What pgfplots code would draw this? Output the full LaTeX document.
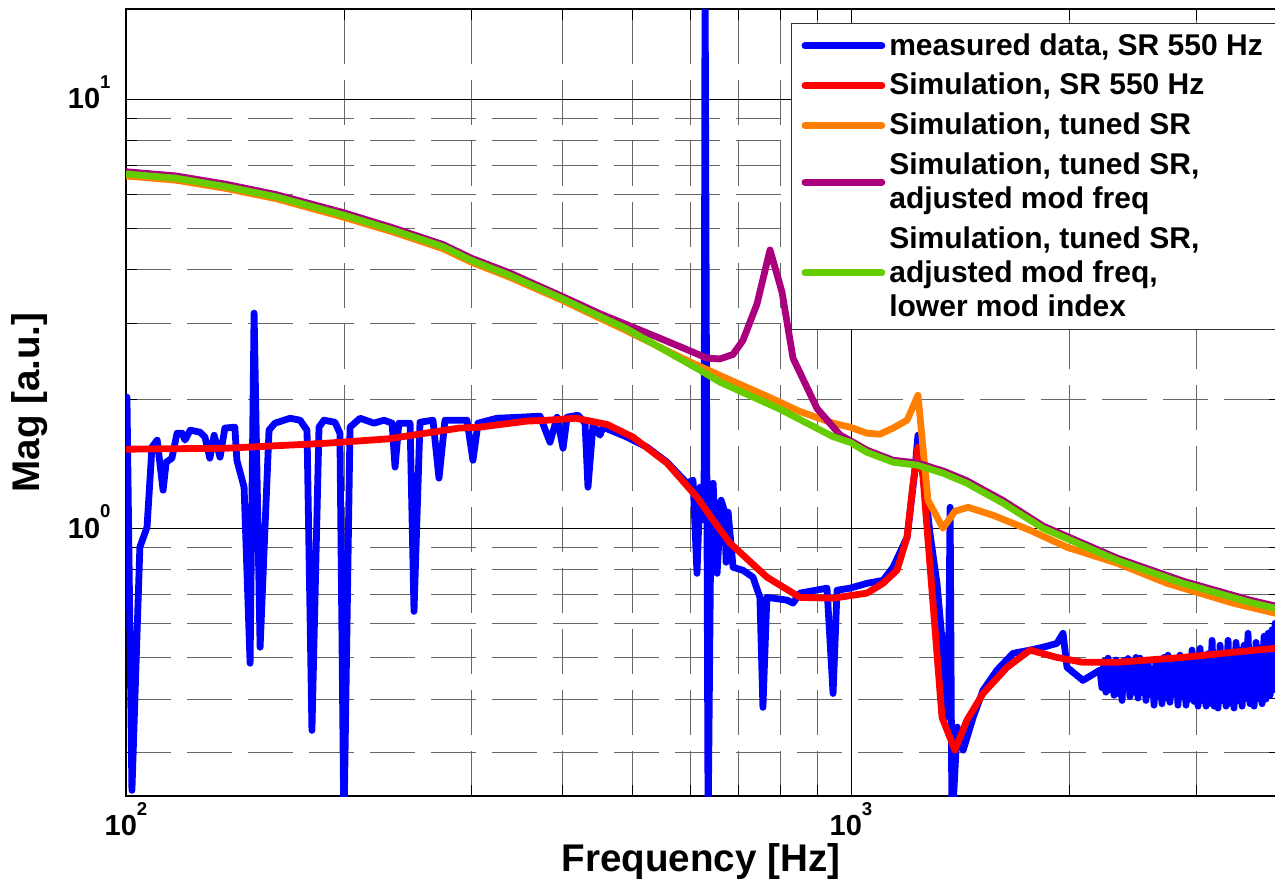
\documentclass[border=0pt]{standalone}
\usepackage{fontspec}
\setmainfont{Liberation Sans}
\usepackage{pgfplots}
\pgfplotsset{compat=1.18}
\definecolor{mblue}{RGB}{0,0,255}
\definecolor{mred}{RGB}{255,0,0}
\definecolor{morange}{RGB}{255,128,0}
\definecolor{mpurple}{RGB}{170,0,125}
\definecolor{mgreen}{RGB}{102,204,0}
\newcommand{\mexp}[2]{#1\smash{\raisebox{10.35pt}{\fontsize{9.3}{10}\selectfont #2}}}
\begin{document}
\begin{tikzpicture}
\begin{axis}[
  at={(0pt,0pt)}, anchor=south west,
  scale only axis, width=576.75pt, height=393.5pt,
  xmode=log, ymode=log,
  xmin=100, xmax=3900, ymin=0.2377, ymax=16.21,
  xtick={100,1000}, xticklabels={\mexp{10}{2},\mexp{10}{3}},
  ytick={1,10}, yticklabels={\mexp{10}{0},\mexp{10}{1}},
  minor xtick={200,300,400,500,600,700,800,900,2000,3000},
  minor ytick={0.3,0.4,0.5,0.6,0.7,0.8,0.9,2,3,4,5,6,7,8,9},
  grid=both,
  major grid style={black, line width=0.45pt},
  minor grid style={black!60, line width=0.45pt, dash pattern=on 22.5pt off 8pt},
  tick align=inside, tick pos=both,
  major tick length=5.5pt, minor tick length=5.5pt,
  every tick/.style={black, line width=0.5pt},
  axis line style={line width=0.6pt},
  ticklabel style={font=\fontsize{14.5}{17}\selectfont\bfseries},
  xticklabel style={yshift=-6.2pt},
  yticklabel style={xshift=-4.2pt},
  label style={font=\fontsize{19.3}{23}\selectfont\bfseries},
  xlabel={Frequency [Hz]}, ylabel={Mag [a.u.]},
  xlabel style={at={(axis description cs:0.4985,-0.0835)}, anchor=center},
  ylabel style={at={(axis description cs:-0.0832,0.5)}, anchor=center},
  legend style={at={(axis description cs:0.5765,0.9822)}, anchor=north west,
    draw=black!80, line width=0.5pt, fill=white,
    font=\fontsize{15}{17}\selectfont\bfseries,
    inner xsep=5pt, inner ysep=3pt, cells={align=left}, row sep=3.5pt},
  legend cell align=left,
  legend image code/.code={\draw[#1] (0pt,0pt) -- (38.5pt,0pt);},
  every axis plot/.append style={line width=3.4pt, line join=round, line cap=round},
  no markers,
]
% measured data
\addplot[mblue] coordinates {
(100.3,2.020)(101.9,0.245)(104.5,0.903)(106.9,1.005)(108.6,1.545)(110.4,1.604)(112.5,1.226)(113.6,1.425)
(115.7,1.456)(117.6,1.665)(119.5,1.665)(120.6,1.604)(122.6,1.692)(126.5,1.674)(128.5,1.630)(130.5,1.456)
(132.3,1.647)(134.8,1.464)(136.9,1.711)(141.3,1.720)(142.2,1.440)(145.5,1.246)(148.3,0.4845)(150.2,3.171)
(153.1,0.528)(157.5,1.692)(160.5,1.757)(168.4,1.804)(173.8,1.785)(177.7,1.692)(180.5,0.338)(184.6,1.720)
(187.5,1.785)(194.2,1.766)(197.3,1.665)(199.8,0.2)(203.7,1.720)(210.3,1.804)(219.8,1.757)(226.9,1.785)
(232.8,1.757)(235.0,1.388)(237.9,1.757)(246.5,1.757)(249.6,0.640)(254.4,1.766)(265.1,1.785)(270.2,1.308)
(275.4,1.785)(295.3,1.785)(301.0,1.440)(305.9,1.757)(324.9,1.804)(349.5,1.814)(372.4,1.824)(384.5,1.586)
(393.2,1.814)(400.7,1.536)(405.8,1.814)(420.2,1.834)(429.7,1.757)(433.7,1.246)(440.7,1.738)(450.6,1.647)
(454.9,1.720)(491.0,1.630)(523.2,1.545)(557.5,1.425)(594.0,1.273)(605.5,1.294)(613.2,0.785)(619.1,1.246)
(627.1,1.044)(629.1,20)(635.2,0.2)(641.3,1.162)(645.4,1.273)(653.6,0.785)(662.0,1.162)(670.4,1.084)
(672.5,0.833)(676.8,1.090)(687.6,0.811)(709.6,0.798)(732.5,0.769)(748.9,0.690)(756.0,0.3825)(765.6,0.690)
(816.0,0.680)(831.8,0.669)(850.5,0.706)(926.6,0.725)(944.6,0.412)(956.6,0.717)(996.8,0.725)(1052,0.744)
(1107,0.756)(1143,0.811)(1195,0.953)(1225,1.365)(1237,1.647)(1253,1.440)(1285,0.973)(1314,0.744)
(1339,0.520)(1361,0.3626)(1370,1.119)(1378,0.2)(1401,0.344)(1428,0.304)(1474,0.3626)(1521,0.419)
(1590,0.467)(1673,0.511)(1766,0.520)(1840,0.528)(1923,0.539)(1961,0.569)(1986,0.474)(2089,0.442)
(2205,0.467)(2219,0.425)(2233,0.490)(2247,0.415)(2262,0.498)(2276,0.420)(2291,0.487)(2306,0.408)
(2320,0.493)(2335,0.412)(2350,0.480)(2365,0.397)(2380,0.492)(2395,0.424)(2410,0.497)(2425,0.405)
(2441,0.479)(2457,0.415)(2472,0.500)(2488,0.402)(2504,0.498)(2520,0.414)(2536,0.487)(2552,0.397)
(2568,0.492)(2584,0.410)(2601,0.470)(2618,0.387)(2634,0.492)(2651,0.405)(2668,0.487)(2685,0.390)
(2702,0.500)(2719,0.402)(2737,0.506)(2754,0.393)(2772,0.480)(2790,0.410)(2807,0.492)(2825,0.387)
(2843,0.506)(2861,0.405)(2880,0.487)(2898,0.387)(2917,0.500)(2936,0.400)(2954,0.520)(2973,0.395)
(2992,0.487)(3011,0.385)(3030,0.525)(3049,0.397)(3069,0.498)(3089,0.385)(3108,0.510)(3128,0.391)
(3148,0.548)(3168,0.385)(3188,0.500)(3208,0.381)(3229,0.534)(3250,0.397)(3270,0.510)(3291,0.385)
(3312,0.548)(3333,0.391)(3354,0.506)(3375,0.381)(3397,0.542)(3419,0.397)(3441,0.520)(3463,0.385)
(3485,0.534)(3507,0.401)(3529,0.569)(3551,0.390)(3574,0.520)(3597,0.385)(3620,0.542)(3643,0.401)
(3667,0.525)(3690,0.390)(3713,0.560)(3737,0.400)(3761,0.569)(3785,0.408)(3809,0.580)(3827,0.42)
(3845,0.60)(3900,0.45)
};
\addlegendentry{measured data, SR 550 Hz\hspace{12pt}}
% simulation SR 550
\addplot[mred] coordinates {
(100,1.528)(137.8,1.536)(189.3,1.578)(230,1.615)(287.9,1.711)(307.8,1.720)(356.2,1.776)(380.9,1.785)
(417.6,1.804)(460.8,1.745)(500.4,1.630)(557.5,1.418)(613.2,1.181)(645.4,1.044)(681.0,0.923)(765.9,0.769)
(850.5,0.690)(944.6,0.687)(1052,0.706)(1107,0.744)(1157,0.798)(1195,0.953)(1218,1.273)(1237,1.545)
(1257,1.315)(1335,0.3626)(1391,0.304)(1445,0.357)(1521,0.412)(1641,0.474)(1766,0.520)(1923,0.500)
(2089,0.487)(2328,0.487)(2871,0.500)(3365,0.514)(3845,0.525)(3900,0.527)
};
\addlegendentry{Simulation, SR 550 Hz}
% tuned SR
\addplot[morange] coordinates {
(100,6.62)(117.2,6.47)(137.4,6.19)(161,5.86)(199.2,5.31)(233.5,4.90)(273.7,4.48)(299.2,4.17)
(337.6,3.85)(399.4,3.40)(440.7,3.14)(489.5,2.89)(550,2.62)(599.7,2.44)(687,2.20)(765.9,2.03)
(850.5,1.87)(944.6,1.757)(996.8,1.72)(1052,1.665)(1096,1.656)(1143,1.711)(1195,1.785)(1237,2.04)
(1277,1.162)(1339,1.0)(1391,1.095)(1450,1.119)(1570,1.072)(1766,0.989)(1986,0.903)(2328,0.829)
(2729,0.744)(3365,0.669)(3845,0.634)(3900,0.631)
};
\addlegendentry{Simulation, tuned SR}
% adjusted mod freq
\addplot[mpurple] coordinates {
(100,6.77)(117.2,6.62)(137.4,6.33)(161,5.99)(199.2,5.44)(233.5,5.01)(273.7,4.58)(299.2,4.26)
(337.6,3.94)(399.4,3.47)(450.6,3.16)(500.4,2.94)(545.3,2.77)(586.7,2.63)(633.1,2.49)(659.6,2.48)
(687.4,2.54)(709.6,2.74)(741.9,3.33)(773.3,4.45)(803.2,3.55)(831.8,2.49)(897.9,1.90)(965.7,1.65)
(1052,1.52)(1143,1.44)(1233,1.42)(1339,1.36)(1445,1.29)(1521,1.23)(1621,1.16)(1840,1.012)
(2328,0.852)(2871,0.753)(3551,0.680)(3845,0.659)(3900,0.656)
};
\addlegendentry{Simulation, tuned SR,\\adjusted mod freq}
% lower mod index
\addplot[mgreen] coordinates {
(100,6.69)(117.2,6.54)(137.4,6.25)(161,5.92)(199.2,5.37)(233.5,4.95)(273.7,4.53)(299.2,4.21)
(337.6,3.89)(399.4,3.43)(440.7,3.17)(489.5,2.92)(619.1,2.335)(659.6,2.19)(798.3,1.894)(944.6,1.634)
(996.8,1.586)(1052,1.503)(1143,1.425)(1233,1.403)(1339,1.344)(1445,1.273)(1521,1.213)(1621,1.144)
(1840,1.0)(2328,0.842)(2871,0.744)(3551,0.672)(3845,0.651)(3900,0.648)
};
\addlegendentry{Simulation, tuned SR,\\adjusted mod freq,\\lower mod index}
\end{axis}
\pgfresetboundingbox
\useasboundingbox (-63pt,-44.5pt) rectangle (574.5pt,398pt);
\end{tikzpicture}
\end{document}
